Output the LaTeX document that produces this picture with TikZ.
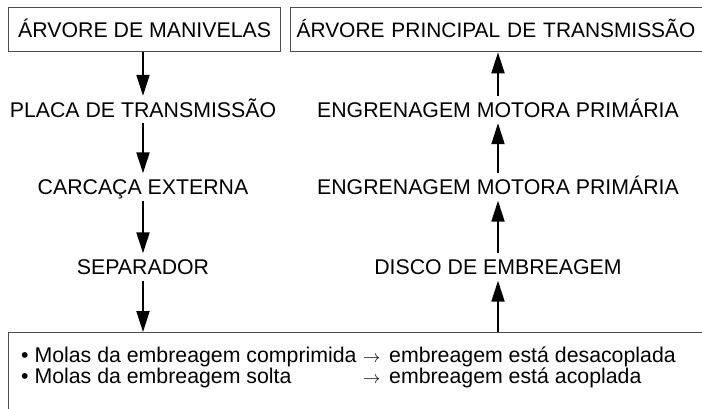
\documentclass[tikz,border=0pt]{standalone}
\usepackage{fontspec}
\setmainfont{Liberation Sans}
\usetikzlibrary{arrows.meta}
\tikzset{
  boxframe/.style={draw=black!70, line width=1.3pt},
  lbl/.style={font=\fontsize{21.3}{25}\selectfont, text height=15pt, text depth=0pt, inner xsep=0pt, inner ysep=6pt},
  flow/.style={line width=2pt, -{Triangle[length=21pt,width=13pt]}},
  txt/.style={font=\fontsize{21.3}{25}\selectfont, inner sep=0pt, anchor=base west},
}
\begin{document}
\begin{tikzpicture}[x=1pt,y=-1pt]
\useasboundingbox[fill=white] (0,0) rectangle (702,408);
% top boxes
\node[boxframe, lbl, minimum width=272pt, minimum height=44pt, anchor=north west] (box1) at (8,7) {ÁRVORE DE MANIVELAS};
\node[boxframe, lbl, font=\fontsize{20.9}{25}\selectfont, text width=420pt, inner xsep=6pt, align=left, minimum height=44pt, anchor=north west] (box2) at (290,7) {ÁRVORE PRINCIPAL DE TRANSMISSÃO};
% bottom box
\node[boxframe, minimum width=720pt, minimum height=110pt, anchor=north west, inner sep=0pt] (bot) at (8,332) {};
% left column
\node[lbl, anchor=base] (p1) at (143,117) {PLACA DE TRANSMISSÃO};
\node[lbl, anchor=base] (p2) at (143,194.5) {CARCAÇA EXTERNA};
\node[lbl, anchor=base] (p3) at (143,274.5) {SEPARADOR};
% right column
\node[lbl, anchor=base] (q1) at (498,117) {ENGRENAGEM MOTORA PRIMÁRIA};
\node[lbl, anchor=base] (q2) at (498,194.5) {ENGRENAGEM MOTORA PRIMÁRIA};
\node[lbl, anchor=base] (q3) at (498,274.5) {DISCO DE EMBREAGEM};
% arrows left (down)
\draw[flow] (box1.south -| p1.north) -- (p1.north);
\draw[flow] (p1.south) -- (p2.north);
\draw[flow] (p2.south) -- (p3.north);
\draw[flow] (p3.south) -- (p3.south |- bot.north);
% arrows right (up)
\draw[flow] (q3.south |- bot.north) -- (q3.south);
\draw[flow] (q3.north) -- (q2.south);
\draw[flow] (q2.north) -- (q1.south);
\draw[flow] (q1.north) -- (q1.north |- box2.south);
% bottom text
\node[txt] (b1) at (21,362) {• Molas da embreagem comprimida};
\node[txt] (b2) at (21,383) {• Molas da embreagem solta};
\node[txt] (a1) at (363,362) {\fontsize{19}{19}\selectfont$\rightarrow$};
\node[txt] (a2) at (363,383) {\fontsize{19}{19}\selectfont$\rightarrow$};
\node[txt] (c1) at (389,362) {embreagem está desacoplada};
\node[txt] (c2) at (389,383) {embreagem está acoplada};
\end{tikzpicture}
\end{document}
